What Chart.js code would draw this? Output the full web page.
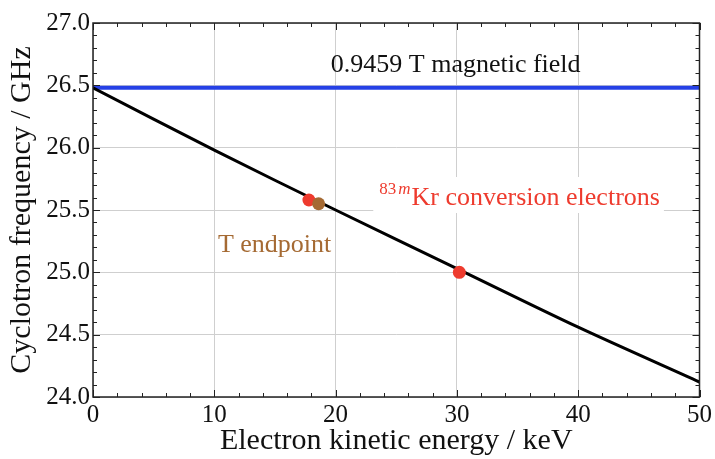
<!DOCTYPE html>
<html>
<head>
<meta charset="utf-8">
<script src="https://cdn.jsdelivr.net/npm/chart.js@4"></script>
<style>
  html, body { margin: 0; padding: 0; background: #fff; }
  #wrap { width: 715px; height: 459px; }
</style>
</head>
<body>
<div id="wrap"><canvas id="cycChart" width="715" height="459"></canvas></div>
<script>
// values
var energies = [0, 10, 20, 30, 40, 50];
var frequencies = [26.48, 25.98, 25.50, 25.03, 24.56, 24.12];
var fieldLevel = [26.48, 26.48];
var fieldEnergies = [0, 50];
var krEnergies = [17.8, 30.2];
var krFreqs = [25.58, 25.00];
var tEnergy = [18.6];
var tFreq = [25.55];

function pts(xs, ys) {
    return xs.map(function (x, i) { return { x: x, y: ys[i] }; });
}

var serif = '"Liberation Serif", "DejaVu Serif", serif';

var framePlugin = {
    id: 'frame',
    afterDraw: function (chart) {
        var c = chart.ctx, a = chart.chartArea;
        var xs = chart.scales.x, ys = chart.scales.y;
        c.save();
        c.strokeStyle = '#222';
        c.lineWidth = 1.5;
        c.strokeRect(a.left, a.top, a.right - a.left, a.bottom - a.top);
        c.lineWidth = 1;
        // ticks inside the frame
        for (var v = 0; v <= 50; v += 2) {
            var px = Math.round(xs.getPixelForValue(v)) + 0.5;
            var len = (v % 10 === 0) ? 7 : 4;
            c.beginPath();
            c.moveTo(px, a.bottom); c.lineTo(px, a.bottom - len);
            c.moveTo(px, a.top); c.lineTo(px, a.top + len);
            c.stroke();
        }
        for (var k = 0; k <= 30; k++) {
            var val = 24 + k * 0.1;
            var py = Math.round(ys.getPixelForValue(val)) + 0.5;
            var l2 = (k % 5 === 0) ? 7 : 4;
            c.beginPath();
            c.moveTo(a.left, py); c.lineTo(a.left + l2, py);
            c.moveTo(a.right, py); c.lineTo(a.right - l2, py);
            c.stroke();
        }
        c.restore();
    }
};

var labelPlugin = {
    id: 'labels',
    afterDatasetsDraw: function (chart) {
        var c = chart.ctx;
        var xs = chart.scales.x, ys = chart.scales.y;
        c.save();
        c.textBaseline = 'alphabetic';

        // field label
        c.font = '26px ' + serif;
        c.fillStyle = '#111';
        c.textAlign = 'center';
        c.fillText('0.9459 T magnetic field', xs.getPixelForValue(29.9), ys.getPixelForValue(26.61));

        // T endpoint
        c.textAlign = 'left';
        c.fillStyle = '#a56a33';
        c.fillText('T endpoint', xs.getPixelForValue(10.3), ys.getPixelForValue(25.16));

        // 83mKr label with white box
        var x0 = xs.getPixelForValue(23.6), base = ys.getPixelForValue(25.54);
        c.font = '17px ' + serif;
        var w1 = c.measureText('83').width;
        c.font = 'italic 17px ' + serif;
        var w2 = c.measureText('m').width;
        c.font = '26px ' + serif;
        var w3 = c.measureText('Kr conversion electrons').width;
        var total = w1 + 2 + w2 + 1 + w3;
        c.fillStyle = '#fff';
        c.fillRect(x0 - 6, base - 28, total + 10, 36);
        c.fillStyle = '#ee3b2e';
        c.font = '17px ' + serif;
        c.fillText('83', x0, base - 11);
        c.font = 'italic 17px ' + serif;
        c.fillText('m', x0 + w1 + 2, base - 11);
        c.font = '26px ' + serif;
        c.fillText('Kr conversion electrons', x0 + w1 + 2 + w2 + 1, base);
        c.restore();
    }
};

var ctx = document.getElementById('cycChart').getContext('2d');

new Chart(ctx, {
    type: 'scatter',
    data: {
        datasets: [
            {
                label: 'T endpoint',
                data: pts(tEnergy, tFreq),
                backgroundColor: '#a56a33',
                borderWidth: 0,
                pointRadius: 6.5,
                order: 0
            },
            {
                label: '83mKr',
                data: pts(krEnergies, krFreqs),
                backgroundColor: '#ee3b2e',
                borderWidth: 0,
                pointRadius: 6.5,
                order: 1
            },
            {
                label: 'Cyclotron frequency',
                data: pts(energies, frequencies),
                showLine: true,
                borderColor: '#000',
                borderWidth: 3,
                pointRadius: 0,
                tension: 0.3,
                order: 2
            },
            {
                label: 'Field',
                data: pts(fieldEnergies, fieldLevel),
                showLine: true,
                borderColor: '#2540e6',
                borderWidth: 4,
                pointRadius: 0,
                order: 3
            }
        ]
    },
    options: {
        responsive: false,
        animation: false,
        layout: { padding: { top: 23, right: 15, left: 0, bottom: 0 } },
        plugins: {
            legend: { display: false },
            tooltip: { enabled: false }
        },
        scales: {
            x: {
                type: 'linear',
                min: 0,
                max: 50,
                afterFit: function (s) { s.height = 62; },
                grid: { color: '#cfcfcf', drawTicks: false, lineWidth: 1 },
                border: { display: false },
                ticks: {
                    stepSize: 10,
                    padding: 3,
                    color: '#111',
                    font: { family: serif, size: 25 }
                },
                title: {
                    display: true,
                    text: 'Electron kinetic energy / keV',
                    color: '#111',
                    padding: { top: 0, bottom: 0 },
                    font: { family: serif, size: 30 }
                }
            },
            y: {
                min: 24,
                max: 27,
                afterFit: function (s) { s.width = 93; },
                grid: { color: '#cfcfcf', drawTicks: false, lineWidth: 1 },
                border: { display: false },
                ticks: {
                    stepSize: 0.5,
                    padding: 3,
                    color: '#111',
                    font: { family: serif, size: 25 },
                    callback: function (v) { return Number(v).toFixed(1); }
                },
                title: {
                    display: true,
                    text: 'Cyclotron frequency / GHz',
                    color: '#111',
                    padding: { top: 4, bottom: 0 },
                    font: { family: serif, size: 30 }
                }
            }
        }
    },
    plugins: [framePlugin, labelPlugin]
});
</script>
</body>
</html>
